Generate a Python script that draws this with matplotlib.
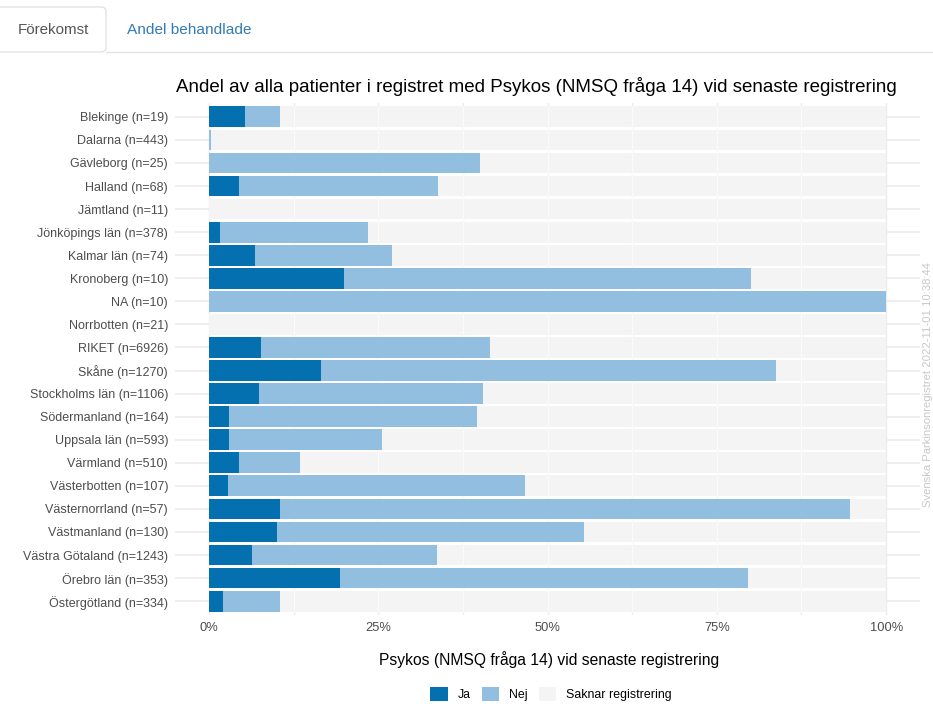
import matplotlib
matplotlib.use("Agg")
import matplotlib.pyplot as plt
from matplotlib.patches import Patch, FancyBboxPatch
from matplotlib.lines import Line2D

plt.rcParams['font.family'] = ['Liberation Sans', 'DejaVu Sans']

# Regions (with patient counts) and share of patients per answer, in percent
regions = [
    "Blekinge (n=19)", "Dalarna (n=443)", "Gävleborg (n=25)", "Halland (n=68)",
    "Jämtland (n=11)", "Jönköpings län (n=378)", "Kalmar län (n=74)",
    "Kronoberg (n=10)", "NA (n=10)", "Norrbotten (n=21)", "RIKET (n=6926)",
    "Skåne (n=1270)", "Stockholms län (n=1106)", "Södermanland (n=164)",
    "Uppsala län (n=593)", "Värmland (n=510)", "Västerbotten (n=107)",
    "Västernorrland (n=57)", "Västmanland (n=130)", "Västra Götaland (n=1243)",
    "Örebro län (n=353)", "Östergötland (n=334)",
]
ja = [5.3, 0.0, 0.0, 4.4, 0.0, 1.6, 6.8, 20.0, 0.0, 0.0, 7.7,
      16.6, 7.4, 3.0, 2.9, 4.4, 2.8, 10.5, 10.0, 6.4, 19.3, 2.1]
nej = [5.2, 0.3, 40.0, 29.4, 0.0, 21.9, 20.3, 60.0, 100.0, 0.0, 33.8,
       67.1, 33.1, 36.6, 22.6, 9.1, 43.9, 84.2, 45.4, 27.3, 60.3, 8.4]
saknar = [100.0 - a - b for a, b in zip(ja, nej)]

series = ["Ja", "Nej", "Saknar registrering"]
colors = ["#0570b0", "#92bfdf", "#f4f4f4"]

title = "Andel av alla patienter i registret med Psykos (NMSQ fråga 14) vid senaste registrering"
xlabel = "Psykos (NMSQ fråga 14) vid senaste registrering"
caption = "Svenska Parkinsonregistret 2022-11-01 10:38:44"
x_ticks = [0, 0.25, 0.5, 0.75, 1.0]
x_ticklabels = ["0%", "25%", "50%", "75%", "100%"]

W, H = 933, 704
fig = plt.figure(figsize=(W / 100, H / 100), dpi=100)


def fx(px):
    return px / W


def fy(py):
    return 1 - py / H


ax = fig.add_axes([fx(175), fy(615), fx(920) - fx(175), fy(103) - fy(615)])
ax.set_facecolor("white")
for s in ax.spines.values():
    s.set_visible(False)

n = len(regions)
ypos = list(range(n))
ja_f = [v / 100 for v in ja]
nej_f = [v / 100 for v in nej]
sak_f = [v / 100 for v in saknar]
left_nej = ja_f
left_sak = [a + b for a, b in zip(ja_f, nej_f)]

# grid beneath the bars
grid_x = [i * 0.125 for i in range(9)]
for g in grid_x:
    ax.axvline(g, color="#ebebeb", lw=1.0, zorder=0)
for y in ypos:
    ax.axhline(y, color="#ebebeb", lw=1.2, zorder=0)

bh = 0.9
ax.barh(ypos, sak_f, left=left_sak, height=bh, color=colors[2], zorder=1)
# grid shows faintly through the empty (missing-data) part of each row
ax.vlines(grid_x[1:-1], -bh / 2, n - 1 + bh / 2, color="#fbfbfb", lw=0.9, zorder=2)
ax.barh(ypos, nej_f, left=left_nej, height=bh, color=colors[1], zorder=3)
ax.barh(ypos, ja_f, height=bh, color=colors[0], zorder=4)

ax.set_xlim(-0.05, 1.05)
ax.set_ylim(n - 1 + 0.6, -0.6)
ax.set_yticks(ypos)
ax.set_yticklabels(regions)
ax.set_xticks(x_ticks)
ax.set_xticklabels(x_ticklabels)
ax.tick_params(axis="both", length=0, labelcolor="#4d4d4d")
ax.tick_params(axis="y", pad=5, labelsize=9.0)
ax.tick_params(axis="x", pad=5, labelsize=9.3)

fig.text(fx(176), fy(87), title, ha="left", va="center", fontsize=13.5, color="black")
fig.text(fx(549), fy(660), xlabel, ha="center", va="center", fontsize=11.25, color="black")
fig.text(fx(928), fy(385), caption, ha="center", va="center", rotation=90,
         fontsize=8.1, color="#c8c8c8")

handles = [Patch(facecolor=c, edgecolor="none") for c in colors]
fig.legend(handles, series, loc="center", bbox_to_anchor=(fx(551), fy(694)),
           ncol=3, frameon=False, fontsize=8.9, handlelength=1.4, handleheight=1.4,
           handletextpad=0.8, columnspacing=0.9)

# tab strip above the chart
tab_col = "#e3e3e3"
fig.add_artist(FancyBboxPatch((fx(-8), fy(52)), fx(114), fy(7) - fy(52),
                              boxstyle="round,pad=0,rounding_size=0.006",
                              transform=fig.transFigure, facecolor="white",
                              edgecolor=tab_col, lw=1.0))
fig.add_artist(Line2D([fx(106), fx(933)], [fy(52), fy(52)], transform=fig.transFigure,
                      color=tab_col, lw=1.0))
fig.text(fx(53), fy(30), "Förekomst", ha="center", va="center", fontsize=10.9, color="#555555")
fig.text(fx(189.5), fy(30), "Andel behandlade", ha="center", va="center", fontsize=11.1,
         color="#337ab7")

fig.savefig("out.png", dpi=100, facecolor="white")
